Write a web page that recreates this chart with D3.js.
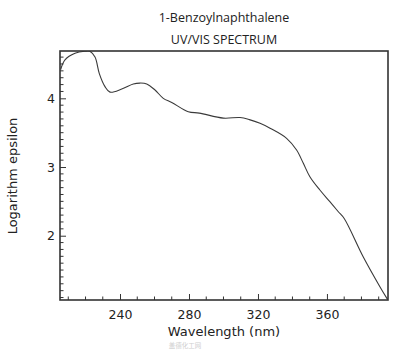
<!DOCTYPE html>
<html>
<head>
<meta charset="utf-8">
<script src="https://cdn.jsdelivr.net/npm/d3@7"></script>
<style>
  body { margin: 0; background: #fff; }
  svg { display: block; }
</style>
</head>
<body>
<div id="chart"></div>
<script>
// spectrum
const wavelength = [205.6, 208.1, 213.9, 219.5, 222.5, 225.5, 228.0, 231.3, 234.2, 241.0, 247.7, 251.5,
  255.5, 260.3, 265.1, 270.0, 279.6, 286.0, 299.9, 309.6, 315.0, 321.2, 327.0, 336.6, 342.4, 346.3,
  350.1, 355.9, 361.7, 366.6, 370.0, 381.0, 390.7, 395.2];
const logEpsilon = [4.42, 4.56, 4.655, 4.685, 4.685, 4.6, 4.36, 4.17, 4.09, 4.135, 4.208, 4.222,
  4.21, 4.121, 4.0, 3.94, 3.805, 3.785, 3.712, 3.72, 3.69, 3.636, 3.565, 3.418, 3.247, 3.054,
  2.859, 2.665, 2.495, 2.349, 2.25, 1.694, 1.258, 1.07];
const xTicks = [240, 280, 320, 360];
const yTicks = [2, 3, 4];

const data = wavelength.map((w, i) => ({ w: w, v: logEpsilon[i] }));

const width = 400, height = 351;
const margins = { top: 51, right: 12, bottom: 51, left: 60 };

const x = d3.scaleLinear()
  .domain([205.2, 395.4])
  .range([margins.left, width - margins.right]);

const y = d3.scaleLinear()
  .domain([1.064, 4.689])
  .range([height - margins.bottom, margins.top]);

const svg = d3.select('#chart')
  .append('svg')
  .attr('width', width)
  .attr('height', height);

const ink = '#333';

// minor ticks, drawn inward
const xMinor = d3.range(210, 395, 10).filter(t => !xTicks.includes(t));
const yMinor = d3.range(11, 47).map(t => t / 10).filter(t => !yTicks.includes(t));

const xAxis = svg.append('g')
  .attr('transform', `translate(0,${height - margins.bottom})`)
  .call(d3.axisBottom(x).tickValues(xTicks).tickSize(-6).tickPadding(10).tickFormat(d3.format('d')));
xAxis.append('g').selectAll('line')
  .data(xMinor)
  .join('line')
  .attr('x1', d => x(d)).attr('x2', d => x(d))
  .attr('y1', 0).attr('y2', -3.5)
  .attr('stroke', ink);

const yAxis = svg.append('g')
  .attr('transform', `translate(${margins.left},0)`)
  .call(d3.axisLeft(y).tickValues(yTicks).tickSize(-6).tickPadding(5).tickFormat(d3.format('d')));
yAxis.append('g').selectAll('line')
  .data(yMinor)
  .join('line')
  .attr('y1', d => y(d)).attr('y2', d => y(d))
  .attr('x1', 0).attr('x2', 3.5)
  .attr('stroke', ink);

svg.selectAll('.domain').remove();
svg.selectAll('.tick line').attr('stroke', ink);
svg.selectAll('.tick text')
  .attr('fill', '#222')
  .style('font-family', 'DejaVu Sans, sans-serif')
  .style('font-size', '12.5px');

svg.append('clipPath').attr('id', 'plot')
  .append('rect')
  .attr('x', margins.left).attr('y', margins.top)
  .attr('width', width - margins.left - margins.right)
  .attr('height', height - margins.top - margins.bottom);

// the spectrum
const line = d3.line()
  .x(d => x(d.w))
  .y(d => y(d.v))
  .curve(d3.curveCatmullRom.alpha(0.5));

svg.append('path')
  .datum(data)
  .attr('d', line)
  .attr('clip-path', 'url(#plot)')
  .attr('fill', 'none')
  .attr('stroke', '#3a3a3a')
  .attr('stroke-width', 1.1);

// frame
svg.append('rect')
  .attr('x', margins.left)
  .attr('y', margins.top)
  .attr('width', width - margins.left - margins.right)
  .attr('height', height - margins.top - margins.bottom)
  .attr('fill', 'none')
  .attr('stroke', ink)
  .attr('stroke-width', 1.6);

// titles
const midX = (margins.left + width - margins.right) / 2;
svg.append('text')
  .attr('x', midX).attr('y', 22)
  .attr('text-anchor', 'middle')
  .style('font-family', 'Open Sans, sans-serif')
  .style('font-size', '12.5px')
  .attr('fill', '#222')
  .text('1-Benzoylnaphthalene');
svg.append('text')
  .attr('x', midX).attr('y', 44)
  .attr('text-anchor', 'middle')
  .style('font-family', 'Open Sans, sans-serif')
  .style('font-size', '12.5px')
  .attr('fill', '#222')
  .text('UV/VIS SPECTRUM');

svg.append('text')
  .attr('x', midX).attr('y', 336)
  .attr('text-anchor', 'middle')
  .style('font-family', 'DejaVu Sans, sans-serif')
  .style('font-size', '13px')
  .attr('fill', '#222')
  .text('Wavelength (nm)');

svg.append('text')
  .attr('transform', `translate(17,176) rotate(-90)`)
  .attr('text-anchor', 'middle')
  .style('font-family', 'DejaVu Sans, sans-serif')
  .style('font-size', '13px')
  .attr('fill', '#222')
  .text('Logarithm epsilon');

// faint watermark under the axis title
svg.append('text')
  .attr('x', 185).attr('y', 348)
  .attr('text-anchor', 'middle')
  .style('font-family', 'Noto Sans CJK SC, sans-serif')
  .style('font-size', '6.5px')
  .attr('fill', '#cfcfcf')
  .text('盖德化工网');
</script>
</body>
</html>
